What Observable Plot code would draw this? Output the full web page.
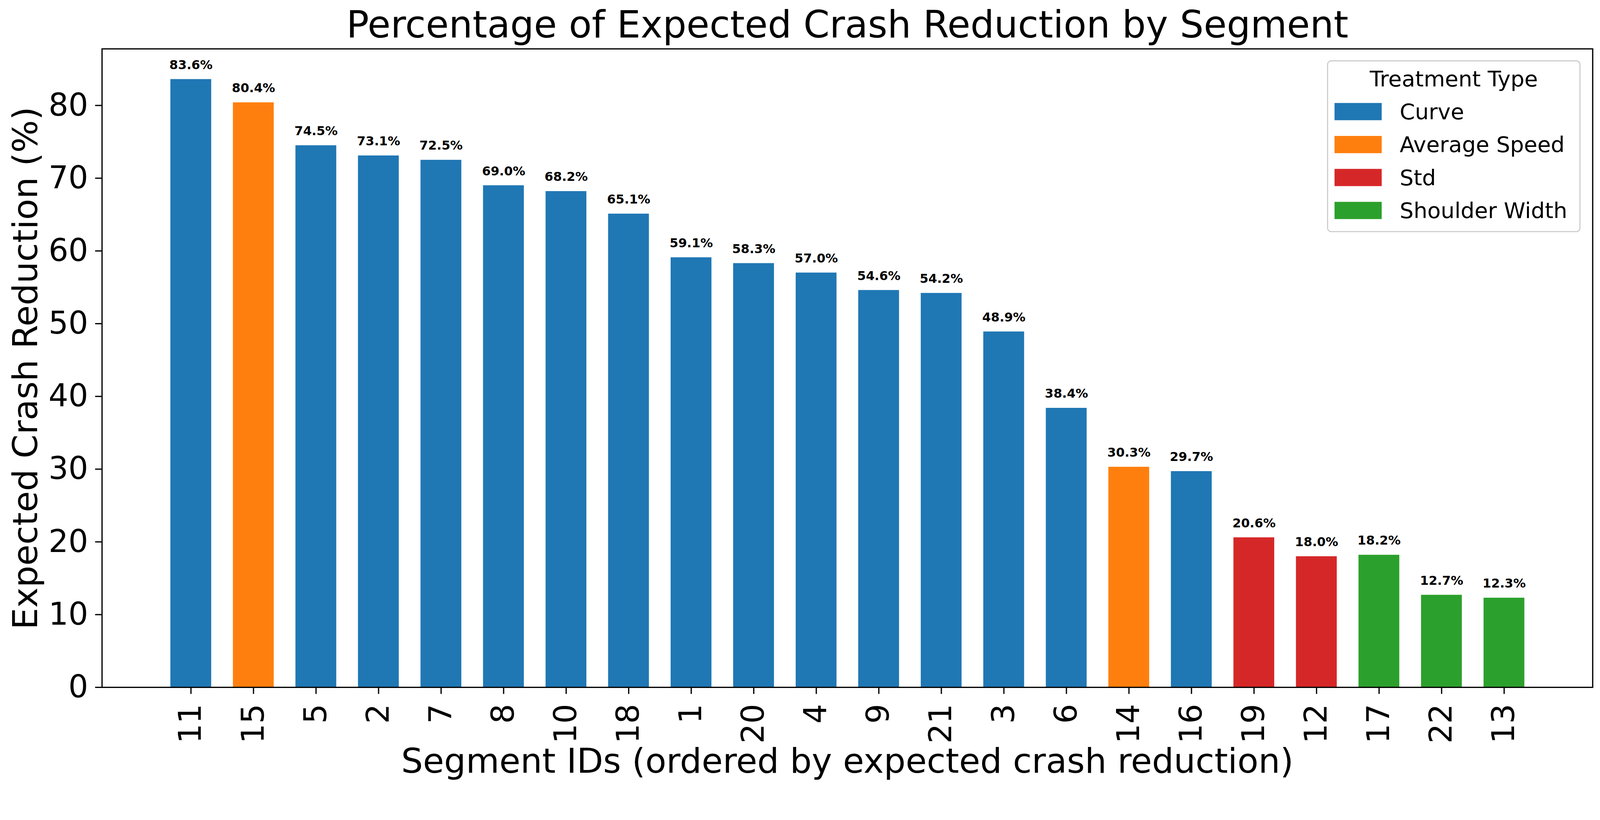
<!DOCTYPE html>
<html>
<head>
<meta charset="utf-8">
<script src="https://cdn.jsdelivr.net/npm/d3@7"></script>
<script src="https://cdn.jsdelivr.net/npm/@observablehq/plot@0.6"></script>
<style>
  html, body { margin: 0; padding: 0; background: #fff; overflow: hidden; }
  #wrap { position: relative; width: 4273px; height: 2099px; font-family: "DejaVu Sans"; background: #fff; transform-origin: 0 0; }
  #wrap svg { max-width: none !important; }
  #legend { position: absolute; left: 3544px; top: 161px; width: 677px; height: 459px; box-sizing: border-box;
            border: 3px solid #cccccc; border-radius: 11px; background: rgba(255,255,255,0.8); padding: 13px 0 0 0; }
  #legend .ttl { font-family: "DejaVu Sans"; font-size: 58.3px; line-height: 68px; text-align: center; margin: 0 0 9px 0; color: #000; }
  .lg-swatches { font-family: "DejaVu Sans"; font-size: 58.3px; margin: 0; padding-left: 17px; color: #000; }
  .lg-swatch { height: 88px; padding-bottom: 0; }
  .lg-swatch > svg { margin-right: 48px; }
  .lg-swatch-label { line-height: 68px; }
</style>
</head>
<body>
<div id="wrap"></div>
<script>
// ---- data ----
const segments = ["11","15","5","2","7","8","10","18","1","20","4","9","21","3","6","14","16","19","12","17","22","13"];
const values = [83.6,80.4,74.5,73.1,72.5,69.0,68.2,65.1,59.1,58.3,57.0,54.6,54.2,48.9,38.4,30.3,29.7,20.6,18.0,18.2,12.7,12.3];
const treatments = ["Curve","Average Speed","Curve","Curve","Curve","Curve","Curve","Curve","Curve","Curve","Curve","Curve","Curve","Curve","Curve","Average Speed","Curve","Std","Std","Shoulder Width","Shoulder Width","Shoulder Width"];
const typeNames = ["Curve","Average Speed","Std","Shoulder Width"];
const typeColors = ["#1f77b4","#ff7f0e","#d62728","#2ca02c"];
const yTicks = [0,10,20,30,40,50,60,70,80];
const yMax = 87.78;
const titleText = "Percentage of Expected Crash Reduction by Segment";
const xLabel = "Segment IDs (ordered by expected crash reduction)";
const yLabel = "Expected Crash Reduction (%)";
const legendTitle = "Treatment Type";

const data = segments.map((s, i) => ({segment: s, value: values[i], type: treatments[i], label: values[i].toFixed(1) + "%"}));

const chart = Plot.plot({
  width: 4273,
  height: 2099,
  marginTop: 130,
  marginBottom: 264,
  marginLeft: 272,
  marginRight: 20,
  style: {fontFamily: "DejaVu Sans", background: "white", color: "black"},
  x: {type: "band", domain: segments, paddingInner: 0.35, paddingOuter: 1.0825, align: 0.5},
  y: {domain: [0, yMax]},
  color: {type: "ordinal", domain: typeNames, range: typeColors},
  marks: [
    Plot.barY(data, {x: "segment", y: "value", fill: "type"}),
    Plot.text(data, {x: "segment", y: d => d.value + 1, text: "label", lineAnchor: "bottom", dy: -7.9,
      fontSize: 33.3, fontWeight: "bold", fill: "black"}),
    Plot.frame({stroke: "black", strokeWidth: 3.33}),
    Plot.axisY({ticks: yTicks, tickSize: 18, tickPadding: 19, strokeWidth: 3.33, fontSize: 83.3, label: null, fill: "black"}),
    Plot.axisY({ticks: [], tickSize: 0, label: yLabel, labelAnchor: "center", labelArrow: "none", labelOffset: 239, fontSize: 91.7, fill: "black"}),
    Plot.axisX({tickRotate: -90, tickSize: 18, tickPadding: 26, strokeWidth: 3.33, fontSize: 83.3, label: null, fill: "black"}),
    Plot.axisX({ticks: [], tickSize: 0, label: xLabel, labelAnchor: "center", labelArrow: "none", labelOffset: 228, fontSize: 91.7, fill: "black"}),
    Plot.text([titleText], {frameAnchor: "top", dy: -30, lineAnchor: "bottom", fontSize: 100, fill: "black"})
  ]
});

const wrap = document.getElementById("wrap");
wrap.appendChild(chart);

const legendBox = document.createElement("div");
legendBox.id = "legend";
const ttl = document.createElement("div");
ttl.className = "ttl";
ttl.textContent = legendTitle;
legendBox.appendChild(ttl);
const sw = Plot.legend({
  color: {type: "ordinal", domain: typeNames, range: typeColors},
  legend: "swatches",
  columns: 1,
  swatchWidth: 126,
  swatchHeight: 46,
  className: "lg"
});
legendBox.appendChild(sw);
wrap.appendChild(legendBox);

// fit the 4273x2099 layout into the actual viewport
function fit() {
  const vw = document.documentElement.clientWidth || window.innerWidth;
  const vh = document.documentElement.clientHeight || window.innerHeight;
  const s = Math.min(vw / 4273, vh / 2099);
  wrap.style.transform = s < 0.999 || s > 1.001 ? `scale(${s})` : "";
}
fit();
window.addEventListener("resize", fit);
</script>
</body>
</html>
